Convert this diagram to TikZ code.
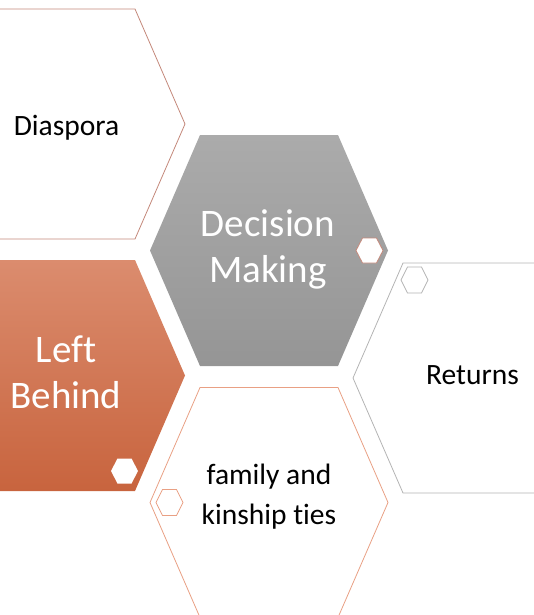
\documentclass[tikz,border=0pt]{standalone}
\usepackage{fontspec}
\setmainfont{Carlito}[Ligatures=NoCommon]
\definecolor{rustline}{HTML}{C4887A}
\definecolor{peachline}{HTML}{E9A084}
\definecolor{greyline}{HTML}{B4B4B4}
\definecolor{rusttop}{HTML}{DB8C6E}
\definecolor{rustbot}{HTML}{C8643E}
\definecolor{greytop}{HTML}{ABABAB}
\definecolor{greybot}{HTML}{959595}
\tikzset{
  bighex/.style={line width=0.8pt},
  smallhex/.style={line width=0.8pt},
  bigtext/.style={font=\fontsize{39}{46}\selectfont, align=center, text=white},
  smalltext/.style={font=\fontsize{29.5}{40}\selectfont, align=center, text=black}
}

\begin{document}
\begin{tikzpicture}[x=1pt, y=-1pt]
\useasboundingbox (0,0) rectangle (533,615);
% centres of the big hexagons
\coordinate (Dia) at (66,124);
\coordinate (Dec) at (269,250.5);
\coordinate (Lef) at (66,375.5);
\coordinate (Ret) at (472,378);
\coordinate (Fam) at (269,502.5);
% big hexagons
\draw[bighex, rustline, fill=white] (Dia) ++(-119,0) -- ++(50,-115) -- ++(138,0) -- ++(50,115) -- ++(-50,115) -- ++(-138,0) -- cycle;
\path[bighex, top color=greytop, bottom color=greybot] (Dec) ++(-119,0) -- ++(50,-115.5) -- ++(138,0) -- ++(50,115.5) -- ++(-50,115.5) -- ++(-138,0) -- cycle;
\path[bighex, top color=rusttop, bottom color=rustbot] (Lef) ++(-119,0) -- ++(50,-115.5) -- ++(138,0) -- ++(50,115.5) -- ++(-50,115.5) -- ++(-138,0) -- cycle;
\draw[bighex, greyline, fill=white] (Ret) ++(-119,0) -- ++(50,-115) -- ++(138,0) -- ++(50,115) -- ++(-50,115) -- ++(-138,0) -- cycle;
\draw[bighex, peachline, fill=white] (Fam) ++(-119,0) -- ++(50,-115) -- ++(138,0) -- ++(50,115) -- ++(-50,115) -- ++(-138,0) -- cycle;
% small hexagons
\coordinate (sDec) at (369.5,250.5);
\coordinate (sLef) at (124.5,471);
\coordinate (sFam) at (169.5,502.5);
\coordinate (sRet) at (414.5,280);
\draw[smallhex, rustline, fill=white] (sDec) ++(-13.5,0) -- ++(6.5,-12.5) -- ++(14,0) -- ++(6.5,12.5) -- ++(-6.5,12.5) -- ++(-14,0) -- cycle;
\fill[white] (sLef) ++(-13.5,0) -- ++(6.5,-12.5) -- ++(14,0) -- ++(6.5,12.5) -- ++(-6.5,12.5) -- ++(-14,0) -- cycle;
\draw[smallhex, peachline] (sFam) ++(-13.5,0) -- ++(6.5,-13) -- ++(14,0) -- ++(6.5,13) -- ++(-6.5,13) -- ++(-14,0) -- cycle;
\draw[smallhex, greyline] (sRet) ++(-13.5,0) -- ++(6.5,-13) -- ++(14,0) -- ++(6.5,13) -- ++(-6.5,13) -- ++(-14,0) -- cycle;
% labels
\node[smalltext] (diaspora) at (66.5,128) {Diaspora};
\node[bigtext] (decision) at (268,249) {Decision\\Making};
\node[bigtext] (left) at (66,372) {Left\\Behind};
\node[smalltext] (returns) at (472.5,375) {Returns};
\node[smalltext] (family) at (269,497) {family and\\kinship ties};
\end{tikzpicture}
\end{document}
